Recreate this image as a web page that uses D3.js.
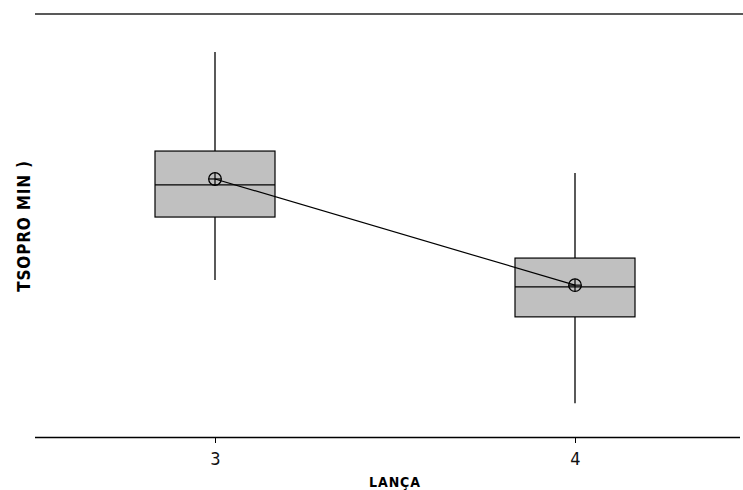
<!DOCTYPE html>
<html>
<head>
<meta charset="utf-8">
<script src="https://cdn.jsdelivr.net/npm/d3@7"></script>
<style>
body { margin: 0; background: #fff; }
svg { display: block; font-family: "DejaVu Sans", Verdana, sans-serif; }
</style>
</head>
<body>
<div id="chart"></div>
<script>
// boxplot data (TSOPRO MIN by LANÇA)
var groups = [3, 4];
var whiskLow = [37.1, 8.0];
var q1s = [52.0, 28.4];
var medians = [59.6, 35.5];
var q3s = [67.6, 42.3];
var whiskHigh = [91.0, 62.4];
var means = [61.0, 35.9];
var xTicks = [3, 4];

var width = 743, height = 490;

var svg = d3.select("#chart").append("svg")
    .attr("width", width)
    .attr("height", height);

var x = d3.scaleLinear()
    .domain([2.5, 2.5 + 705 / 360])
    .range([35, 740]);

var y = d3.scaleLinear()
    .domain([0, 100])
    .range([437, 14]);

var halfW = x(3 + 1 / 6) - x(3);

// top frame line
svg.append("line")
    .attr("x1", 35).attr("x2", 743)
    .attr("y1", y(100)).attr("y2", y(100))
    .attr("stroke", "#222")
    .attr("stroke-width", 1.5);

// x axis
var xAxis = d3.axisBottom(x)
    .tickValues(xTicks)
    .tickFormat(d3.format("d"))
    .tickSize(6)
    .tickPadding(9);

var gx = svg.append("g")
    .attr("transform", "translate(0," + y(0) + ")")
    .call(xAxis);
gx.select(".domain").attr("d", "M35,0.5H740").attr("stroke", "#000").attr("stroke-width", 1.5);
gx.selectAll(".tick text")
    .attr("font-size", 18)
    .attr("font-family", "DejaVu Sans Condensed, DejaVu Sans, sans-serif")
    .attr("fill", "#111");

var data = groups.map(function(g, i) {
    return { g: g, lo: whiskLow[i], q1: q1s[i], med: medians[i], q3: q3s[i], hi: whiskHigh[i], mean: means[i] };
});

var box = svg.selectAll(".box").data(data).enter().append("g")
    .attr("class", "box");

// whiskers
box.append("line")
    .attr("x1", function(d) { return x(d.g); })
    .attr("x2", function(d) { return x(d.g); })
    .attr("y1", function(d) { return y(d.q3); })
    .attr("y2", function(d) { return y(d.hi); })
    .attr("stroke", "#000").attr("stroke-width", 1.3);
box.append("line")
    .attr("x1", function(d) { return x(d.g); })
    .attr("x2", function(d) { return x(d.g); })
    .attr("y1", function(d) { return y(d.q1); })
    .attr("y2", function(d) { return y(d.lo); })
    .attr("stroke", "#000").attr("stroke-width", 1.3);

// boxes
box.append("rect")
    .attr("x", function(d) { return x(d.g) - halfW; })
    .attr("width", halfW * 2)
    .attr("y", function(d) { return y(d.q3); })
    .attr("height", function(d) { return y(d.q1) - y(d.q3); })
    .attr("fill", "#c0c0c0")
    .attr("stroke", "#000")
    .attr("stroke-width", 1.2);

// medians
box.append("line")
    .attr("x1", function(d) { return x(d.g) - halfW; })
    .attr("x2", function(d) { return x(d.g) + halfW; })
    .attr("y1", function(d) { return y(d.med); })
    .attr("y2", function(d) { return y(d.med); })
    .attr("stroke", "#000").attr("stroke-width", 1.2);

// mean connect line
svg.append("path")
    .datum(data)
    .attr("fill", "none")
    .attr("stroke", "#000")
    .attr("stroke-width", 1.2)
    .attr("d", d3.line()
        .x(function(d) { return x(d.g); })
        .y(function(d) { return y(d.mean); }));

// mean symbols: circle with cross
var r = 6.3;
var sym = svg.selectAll(".mean").data(data).enter().append("g")
    .attr("class", "mean")
    .attr("transform", function(d) { return "translate(" + x(d.g) + "," + y(d.mean) + ")"; });
sym.append("circle").attr("r", r).attr("fill", "none").attr("stroke", "#000").attr("stroke-width", 1.3);
sym.append("line").attr("x1", -r).attr("x2", r).attr("stroke", "#000").attr("stroke-width", 1.2);
sym.append("line").attr("y1", -r).attr("y2", r).attr("stroke", "#000").attr("stroke-width", 1.2);

// axis titles
svg.append("text")
    .attr("x", 395).attr("y", 487)
    .attr("text-anchor", "middle")
    .attr("font-size", 14)
    .attr("font-weight", "bold")
    .attr("letter-spacing", 0.9)
    .attr("font-family", "DejaVu Sans Condensed, DejaVu Sans, sans-serif")
    .text("LANÇA");

svg.append("text")
    .attr("transform", "translate(30,226) rotate(-90)")
    .attr("text-anchor", "middle")
    .attr("font-size", 17)
    .attr("font-weight", "bold")
    .attr("letter-spacing", 0.8)
    .attr("font-family", "DejaVu Sans Condensed, DejaVu Sans, sans-serif")
    .text("TSOPRO MIN )");
</script>
</body>
</html>
